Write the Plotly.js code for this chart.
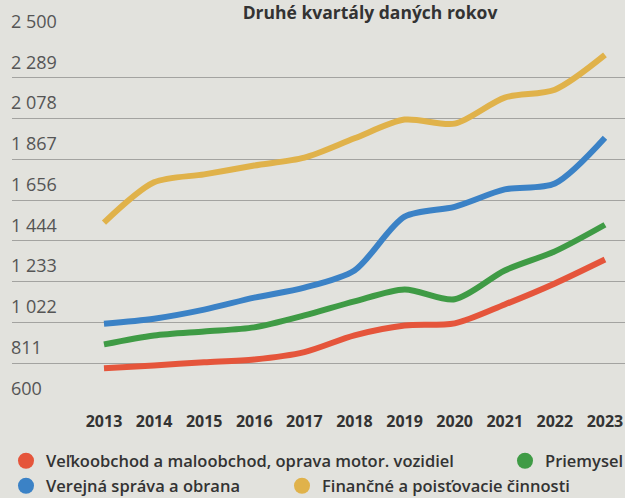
<!DOCTYPE html>
<html>
<head>
<meta charset="utf-8">
<script src="https://cdn.plot.ly/plotly-3.0.1.min.js"></script>
<style>html,body{margin:0;padding:0;background:#e2e2dd;}#chart{width:625px;height:498px;}</style>
</head>
<body>
<div id="chart"></div>
<script>
var years = [2013, 2014, 2015, 2016, 2017, 2018, 2019, 2020, 2021, 2022, 2023];
var velkoobchod = [784, 799, 815, 830, 868, 955, 1006, 1017, 1115, 1224, 1348];
var priemysel = [908, 954, 975, 996, 1058, 1131, 1193, 1142, 1291, 1390, 1528];
var verejna = [1015, 1041, 1088, 1150, 1202, 1291, 1570, 1621, 1711, 1742, 1979];
var financne = [1539, 1748, 1789, 1835, 1876, 1976, 2073, 2052, 2187, 2228, 2408];
var yTickVals = [600, 811, 1022, 1233, 1444, 1656, 1867, 2078, 2289, 2500];
var yTickText = ['600', '811', '1 022', '1 233', '1 444', '1 656', '1 867', '2 078', '2 289', '2 500'];
var seriesNames = ['Veľkoobchod a maloobchod, oprava motor. vozidiel', 'Priemysel', 'Verejná správa a obrana', 'Finančné a poisťovacie činnosti'];
var colors = ['#e5553b', '#3f9b45', '#3b82c6', '#e0b24a'];
var titleText = 'Druhé kvartály daných rokov';

var seriesData = [velkoobchod, priemysel, verejna, financne];
var legendIds = ['legend', 'legend2', 'legend3', 'legend4'];
var traces = [];
seriesData.forEach(function (vals, i) {
  traces.push({
    x: years, y: vals, type: 'scatter', mode: 'lines',
    line: {color: colors[i], width: 6, shape: 'spline', smoothing: 0.8},
    showlegend: false, hoverinfo: 'skip'
  });
});
seriesData.forEach(function (vals, i) {
  traces.push({
    x: [null], y: [null], type: 'scatter', mode: 'markers',
    name: seriesNames[i], legend: legendIds[i],
    marker: {color: colors[i], size: 16, symbol: 'circle'}
  });
});

var legendFont = {family: 'Open Sans', size: 16.5, color: '#333', weight: 600};
function leg(xPx, yPx) {
  return {
    orientation: 'h', xref: 'container', yref: 'container', x: xPx / 625, y: 1 - yPx / 498,
    xanchor: 'left', yanchor: 'middle', font: legendFont, bgcolor: 'rgba(0,0,0,0)', itemsizing: 'trace'
  };
}
var layout = {
  width: 625, height: 498,
  margin: {l: 12, r: 0, t: 37, b: 94},
  paper_bgcolor: '#e2e2dd', plot_bgcolor: '#e2e2dd',
  font: {family: 'Open Sans', color: '#333'},
  title: {
    text: titleText, font: {family: 'Open Sans', size: 17.5, weight: 700, color: '#333'},
    xref: 'container', yref: 'container', x: 0.592, xanchor: 'center', y: 1 - 13 / 498, yanchor: 'middle'
  },
  xaxis: {
    range: [2011.164, 2023.40], tickvals: years, ticktext: years.map(String),
    showgrid: false, zeroline: false, showline: false,
    ticks: 'outside', ticklen: 3, tickcolor: 'rgba(0,0,0,0)',
    tickfont: {family: 'Open Sans', size: 16, weight: 700, color: '#333'}
  },
  yaxis: {
    range: [599, 2501], tickvals: yTickVals, ticktext: yTickText,
    showgrid: true, gridcolor: '#a3a3a0', gridwidth: 1, zeroline: false, showline: false,
    ticks: '', ticklabelposition: 'inside top', ticklabeloverflow: 'allow',
    ticklabelstandoff: -4, ticklabelshift: -3,
    tickfont: {family: 'Open Sans', size: 18, color: '#555'}
  },
  legend: leg(6, 461),
  legend2: leg(505, 461),
  legend3: leg(6, 486),
  legend4: leg(282, 486),
  showlegend: true
};
Plotly.newPlot('chart', traces, layout, {displayModeBar: false, staticPlot: true});
</script>
</body>
</html>
